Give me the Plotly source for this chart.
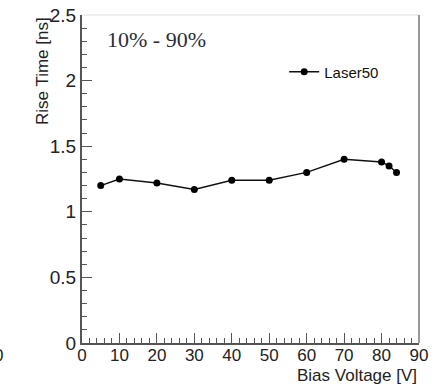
import plotly.graph_objects as go

bias_voltage = [5, 10, 20, 30, 40, 50, 60, 70, 80, 82, 84]
rise_time = [1.20, 1.25, 1.22, 1.17, 1.24, 1.24, 1.30, 1.40, 1.38, 1.35, 1.30]
series_name = "Laser50"

x_ticks = [0, 10, 20, 30, 40, 50, 60, 70, 80, 90]
y_ticks = [0, 0.5, 1, 1.5, 2, 2.5]
y_tick_text = ["0", "0.5", "1", "1.5", "2", "2.5"]

fig = go.Figure()
fig.add_trace(go.Scatter(
    x=bias_voltage, y=rise_time, mode="lines+markers", name=series_name,
    line=dict(color="#111111", width=1.4),
    marker=dict(color="#000000", size=7, symbol="circle"),
))

tick_font = dict(family="Liberation Sans, Arial, sans-serif", size=17, color="#222222")
title_font = dict(family="Liberation Sans, Arial, sans-serif", size=17, color="#222222")

fig.update_layout(
    width=434, height=384,
    margin=dict(l=82, r=15, t=15, b=41),
    paper_bgcolor="white", plot_bgcolor="white",
    showlegend=True,
    legend=dict(x=0.6, y=0.826, xanchor="left", yanchor="middle",
                bgcolor="rgba(0,0,0,0)", itemwidth=30,
                font=dict(family="Liberation Sans, Arial, sans-serif", size=15, color="#111111")),
    xaxis=dict(
        range=[0, 90], tickvals=x_ticks, ticktext=[str(v) for v in x_ticks],
        ticks="inside", ticklen=10, tickwidth=1, tickcolor="#555555",
        minor=dict(ticks="inside", ticklen=5, dtick=2, tickcolor="#555555", tickwidth=1),
        showline=True, linecolor="#555555", linewidth=2, automargin=False,
        showgrid=False, zeroline=False, tickfont=tick_font, ticklabelstandoff=-4,
    ),
    yaxis=dict(
        range=[0, 2.5], tickvals=y_ticks, ticktext=y_tick_text,
        ticks="inside", ticklen=10, tickwidth=1, tickcolor="#555555",
        minor=dict(ticks="inside", ticklen=5, dtick=0.1, tickcolor="#555555", tickwidth=1),
        showline=True, linecolor="#555555", linewidth=2, automargin=False,
        showgrid=False, zeroline=False, tickfont=dict(tick_font, size=19), ticklabelstandoff=0,
    ),
    shapes=[
        dict(type="line", xref="paper", yref="paper", x0=0, x1=1, y0=1, y1=1,
             line=dict(color="#dddddd", width=1)),
        dict(type="line", xref="paper", yref="paper", x0=1, x1=1, y0=0, y1=1,
             line=dict(color="#777777", width=1.5)),
    ],
    annotations=[
        dict(text="Bias Voltage [V]", xref="paper", yref="paper", x=1, y=0,
             xanchor="right", yanchor="top", yshift=-21, showarrow=False,
             font=title_font),
        dict(text="Rise Time [ns]", xref="paper", yref="paper", x=0, y=1,
             xanchor="center", yanchor="top", xshift=-40, textangle=-90,
             showarrow=False, font=title_font),
        dict(text="10% - 90%", xref="paper", yref="paper", x=0, y=1,
             xanchor="left", yanchor="top", xshift=23, yshift=-10,
             showarrow=False,
             font=dict(family="Liberation Serif, Times New Roman, serif", size=22, color="#2a2f3a")),
        dict(text="0", xref="paper", yref="paper", x=0, y=0,
             xanchor="center", yanchor="top", xshift=-84, yshift=-1,
             showarrow=False, font=tick_font),
    ],
)

fig.write_html("out.html")
